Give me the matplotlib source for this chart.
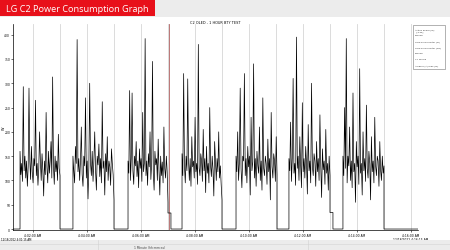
import numpy as np
import matplotlib
matplotlib.use("Agg")
import matplotlib.pyplot as plt
from matplotlib.patches import Rectangle

# on/off cycles of the TV, x in grid units (1 unit = 1 gridline)
burst_start = [-0.48, 1.48, 3.52, 5.52, 7.52, 9.48, 11.48]
burst_end = [1.0, 3.0, 5.0, 7.0, 9.04, 11.0, 13.0]
step_end = [None, None, 5.11, None, None, 11.11, None]
step_level = [0, 0, 33, 0, 0, 34, 0]

b1 = [160, 112, 135, 98, 293, 120, 150, 105, 140, 88, 128, 290, 140, 102, 170, 118, 95, 145, 130, 265,
      110, 135, 90, 125, 200, 138, 100, 155, 120, 68, 140, 112, 240, 128, 95, 160, 115, 140, 180, 105,
      313, 130, 92, 150, 118, 140, 100, 195, 125, 110]
b2 = [150, 120, 95, 170, 135, 390, 118, 145, 100, 140, 210, 112, 88, 150, 130, 270, 105, 140, 62, 128,
      300, 135, 110, 160, 98, 140, 200, 120, 80, 150, 132, 175, 108, 145, 95, 262, 125, 140, 70, 155,
      118, 190, 100, 140, 128, 90, 165, 135, 112, 60]
b3 = [140, 115, 285, 100, 145, 280, 120, 92, 150, 130, 180, 108, 140, 85, 165, 125, 145, 98, 240, 118,
      135, 392, 110, 140, 90, 155, 128, 200, 102, 135, 345, 115, 80, 160, 132, 145, 100, 185, 120, 70,
      150, 110, 138, 95, 210, 125, 105, 150, 118, 55]
b4 = [155, 110, 320, 130, 95, 150, 120, 309, 140, 100, 145, 88, 190, 128, 140, 105, 230, 118, 135, 92,
      380, 125, 110, 155, 140, 98, 205, 120, 145, 75, 170, 115, 135, 95, 250, 130, 108, 150, 120, 68,
      180, 140, 100, 145, 118, 200, 105, 130, 92, 60]
b5 = [150, 118, 200, 100, 135, 290, 125, 85, 150, 140, 320, 110, 145, 95, 170, 128, 150, 70, 230, 120,
      138, 340, 105, 145, 88, 160, 130, 115, 210, 100, 140, 80, 270, 125, 110, 150, 135, 92, 185, 118,
      145, 60, 240, 128, 105, 155, 140, 98, 190, 112]
b6 = [145, 120, 220, 98, 145, 310, 115, 135, 90, 395, 125, 150, 100, 190, 130, 85, 260, 118, 145, 105,
      170, 135, 72, 215, 120, 140, 95, 300, 128, 110, 155, 140, 88, 180, 118, 145, 100, 235, 130, 65,
      165, 122, 140, 92, 205, 115, 135, 80, 150, 110]
b7 = [150, 110, 250, 125, 392, 95, 150, 130, 210, 100, 140, 85, 280, 118, 135, 55, 180, 128, 150, 92,
      330, 115, 135, 70, 200, 120, 145, 98, 255, 125, 105, 160, 135, 60, 190, 118, 140, 95, 230, 130,
      110, 150, 140, 88, 180, 120, 100, 150, 115, 130]
bursts = [b1, b2, b3, b4, b5, b6, b7]

x_min, x_max = -0.74, 14.26
y_ticks = [0, 50, 100, 150, 200, 250, 300, 350, 400]
x_tick_pos = [0, 2, 4, 6, 8, 10, 12, 14]
x_tick_labels = ["4:02:00 AM", "4:04:00 AM", "4:06:00 AM", "4:08:00 AM",
                 "4:10:00 AM", "4:12:00 AM", "4:14:00 AM",
                 "4:16:00 AM\n12/18/2022 4:16:15 AM"]
legend_items = ["Active Power (W)\n  [3.28]", "Channel", "Cord Plug Monitor (W)",
                "Cord Plug Monitor (Wh)", "Channel", "Y-Y Wiring", "Ampere (A) max (W)"]

# build the trace
t = [x_min]
w = [0]
for s, e, vals, se, sl in zip(burst_start, burst_end, bursts, step_end, step_level):
    tt = np.linspace(s, e, len(vals))
    t += [s] + list(tt)
    w += [0] + vals
    if se is not None:
        t += [e, se]
        w += [sl, sl]
    t.append(t[-1])
    w.append(0)
t.append(x_max)
w.append(0)

fig = plt.figure(figsize=(4.5, 2.51), dpi=100)
fig.patch.set_facecolor("white")

# header / footer bands
fig.patches.append(Rectangle((0, 1 - 18 / 251), 1, 18 / 251, transform=fig.transFigure,
                             facecolor="#ececec", edgecolor="none"))
fig.patches.append(Rectangle((0, 1 - 17 / 251), 155 / 450, 17 / 251, transform=fig.transFigure,
                             facecolor="#e8101a", edgecolor="none"))
fig.text(6 / 450, 1 - 9 / 251, "LG C2 Power Consumption Graph", color="white",
         fontsize=6.6, va="center", ha="left", family="Open Sans")
fig.patches.append(Rectangle((0, 0), 1, 10 / 251, transform=fig.transFigure,
                             facecolor="#ececec", edgecolor="none"))
fig.add_artist(plt.Line2D([0, 1], [6 / 251, 6 / 251], transform=fig.transFigure,
                          color="#d8d8d8", lw=0.5))
fig.add_artist(plt.Line2D([98 / 450, 98 / 450], [0, 10 / 251], transform=fig.transFigure,
                          color="#d0d0d0", lw=0.4))
fig.add_artist(plt.Line2D([308 / 450, 308 / 450], [0, 10 / 251], transform=fig.transFigure,
                          color="#d0d0d0", lw=0.4))
fig.text(150 / 450, 3 / 251, "1 Minute (hh:mm:ss)", fontsize=2.2, ha="center", va="center",
         color="#444444")

ax = fig.add_axes([13 / 450, 1 - 231 / 251, 405 / 450, 206 / 251])
ax.plot(t, w, color="black", lw=0.5)
ax.set_xlim(x_min, x_max)
ax.set_ylim(-2, 422)
for g in range(0, 15):
    ax.axvline(g, color="#d6d6d6", lw=0.6, zorder=0)
ax.axvline(5.04, color="#b06060", lw=0.6, zorder=0)

ax.set_yticks(y_ticks)
ax.set_yticklabels([str(v) for v in y_ticks], fontsize=2.2)
ax.set_xticks(x_tick_pos)
ax.set_xticklabels(x_tick_labels, fontsize=2.2, linespacing=1.0)
ax.tick_params(length=1.2, width=0.4, pad=0.8)
for side in ["top", "right"]:
    ax.spines[side].set_visible(False)
for side in ["left", "bottom"]:
    ax.spines[side].set_linewidth(0.5)
ax.set_ylabel("W", fontsize=2.5)
ax.yaxis.set_label_coords(-7 / 405, 0.5)
ax.set_title("C2 OLED - 1 HOUR BTY TEST", fontsize=2.5, pad=1)

fig.text(1 / 450, 1 - 238.5 / 251, "12/18/2022 4:01:15 AM", fontsize=1.9, va="top")

# legend box
fig.patches.append(Rectangle((413 / 450, 1 - 70 / 251), 32 / 450, 44 / 251, transform=fig.transFigure,
                             facecolor="white", edgecolor="#777777", lw=0.4))
for i, lab in enumerate(legend_items):
    fig.text(415 / 450, 1 - (29 + i * 6) / 251, lab, fontsize=1.6, va="top", color="#333333")

fig.savefig("out.png", dpi=100)
